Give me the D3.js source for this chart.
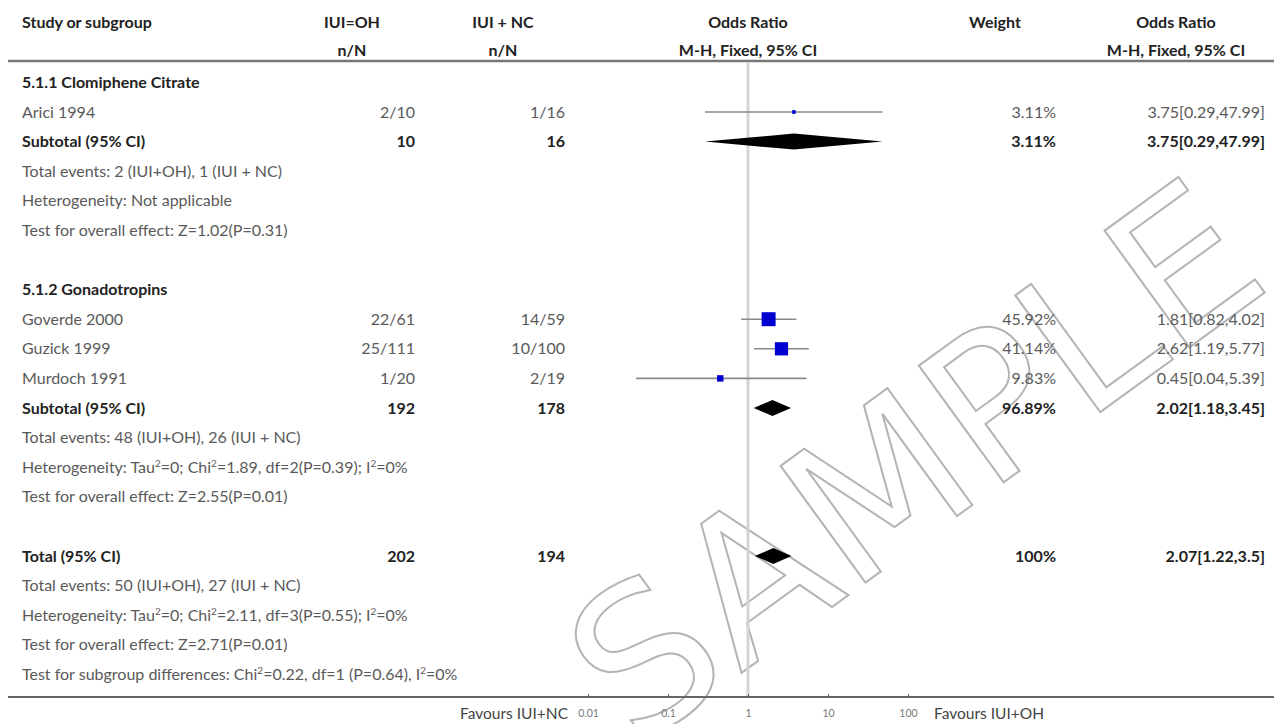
<!DOCTYPE html>
<html><head><meta charset="utf-8">
<script src="https://cdn.jsdelivr.net/npm/d3@7"></script>
<style>
html,body{margin:0;padding:0;background:#fff;}
svg{display:block;font-family:Lato, "Open Sans", sans-serif;}
</style></head>
<body>
<script>
// ---------- data ----------
const studies   = ["Arici 1994", "Goverde 2000", "Guzick 1999", "Murdoch 1991"];
const studyGroup = [0, 1, 1, 1];
const ohCounts  = ["2/10", "22/61", "25/111", "1/20"];
const ncCounts  = ["1/16", "14/59", "10/100", "2/19"];
const orValues  = [3.75, 1.81, 2.62, 0.45];
const ciLower   = [0.29, 0.82, 1.19, 0.04];
const ciUpper   = [47.99, 4.02, 5.77, 5.39];
const weights   = [3.11, 45.92, 41.14, 9.83];
const weightLabels = ["3.11%", "45.92%", "41.14%", "9.83%"];
const orLabels  = ["3.75[0.29,47.99]", "1.81[0.82,4.02]", "2.62[1.19,5.77]", "0.45[0.04,5.39]"];

const groupNames = ["5.1.1 Clomiphene Citrate", "5.1.2 Gonadotropins"];
const subOH      = ["10", "192"];
const subNC      = ["16", "178"];
const subOR      = [3.75, 2.02];
const subLower   = [0.29, 1.18];
const subUpper   = [47.99, 3.45];
const subWeight  = ["3.11%", "96.89%"];
const subORLabel = ["3.75[0.29,47.99]", "2.02[1.18,3.45]"];
const subEvents  = ["Total events: 2 (IUI+OH), 1 (IUI + NC)", "Total events: 48 (IUI+OH), 26 (IUI + NC)"];
const subHet     = [[["Heterogeneity: Not applicable", 0]],
                    [["Heterogeneity: Tau",0],["2",1],["=0; Chi",0],["2",1],["=1.89, df=2(P=0.39); I",0],["2",1],["=0%",0]]];
const subTest    = ["Test for overall effect: Z=1.02(P=0.31)", "Test for overall effect: Z=2.55(P=0.01)"];

const totalOH = "202", totalNC = "194", totalWeight = "100%";
const totalOR = 2.07, totalLower = 1.22, totalUpper = 3.5, totalORLabel = "2.07[1.22,3.5]";
const totalEvents = "Total events: 50 (IUI+OH), 27 (IUI + NC)";
const totalHet = [["Heterogeneity: Tau",0],["2",1],["=0; Chi",0],["2",1],["=2.11, df=3(P=0.55); I",0],["2",1],["=0%",0]];
const totalTest = "Test for overall effect: Z=2.71(P=0.01)";
const subgroupTest = [["Test for subgroup differences: Chi",0],["2",1],["=0.22, df=1 (P=0.64), I",0],["2",1],["=0%",0]];

const tickValues = [0.01, 0.1, 1, 10, 100];
const tickLabels = ["0.01", "0.1", "1", "10", "100"];
const favoursLeft = "Favours IUI+NC", favoursRight = "Favours IUI+OH";

// ---------- build rows ----------
const rows = [];
groupNames.forEach((g, gi) => {
  rows.push({type: "group", label: g});
  studies.forEach((s, i) => { if (studyGroup[i] === gi) rows.push({type: "study", i}); });
  rows.push({type: "subtotal", gi});
  rows.push({type: "text", label: subEvents[gi]});
  rows.push({type: "rich", parts: subHet[gi]});
  rows.push({type: "text", label: subTest[gi]});
  rows.push({type: "blank"});
});
rows.push({type: "total"});
rows.push({type: "text", label: totalEvents});
rows.push({type: "rich", parts: totalHet});
rows.push({type: "text", label: totalTest});
rows.push({type: "rich", parts: subgroupTest});

// ---------- layout ----------
const W = 1274, H = 724;
const svg = d3.select("body").append("svg").attr("width", W).attr("height", H);
const x = d3.scaleLog().domain([0.01, 100]).range([588, 908]);
const y = d3.scaleLinear().domain([0, 20]).range([82.4, 674.4]);
const size = d3.scaleSqrt().domain([0, 100]).range([0, 20.6]);

const colName = 22, colOH = 415, colNC = 565, colW = 1056, colOR = 1265;
const FS = 16;
const grey = "#5a5a5a", dark = "#222";

// watermark
svg.append("text")
  .attr("transform", "translate(915,462) rotate(-36)")
  .attr("text-anchor", "middle").attr("dominant-baseline", "central")
  .style("font-family", "DejaVu Sans").style("font-size", "198px")
  .attr("fill", "none").attr("stroke", "#b4b4b4").attr("stroke-width", 2)
  .text("SAMPLE");

// header
const hdr = svg.append("g").style("font-weight", "bold").style("font-size", FS + "px").attr("fill", dark);
hdr.append("text").attr("x", colName).attr("y", 22).attr("dy", "0.35em").text("Study or subgroup");
[[352, "IUI=OH", "n/N"], [503, "IUI + NC", "n/N"], [748, "Odds Ratio", "M-H, Fixed, 95% CI"],
 [995, "Weight", ""], [1176, "Odds Ratio", "M-H, Fixed, 95% CI"]].forEach(([cx, a, b]) => {
  hdr.append("text").attr("x", cx).attr("y", 22).attr("dy", "0.35em").attr("text-anchor", "middle").text(a);
  if (b) hdr.append("text").attr("x", cx).attr("y", 50).attr("dy", "0.35em").attr("text-anchor", "middle").text(b);
});

// lines
svg.append("line").attr("x1", 8).attr("x2", W).attr("y1", 61).attr("y2", 61).attr("stroke", "#777").attr("stroke-width", 2.5);
svg.append("line").attr("x1", x(1)).attr("x2", x(1)).attr("y1", 62).attr("y2", 697).attr("stroke", "#d4d4d4").attr("stroke-width", 3);

// rows
const body = svg.append("g").style("font-size", FS + "px");
function txt(xp, yp, s, opt = {}) {
  return body.append("text").attr("x", xp).attr("y", yp).attr("dy", "0.35em")
    .attr("text-anchor", opt.anchor || "start")
    .attr("fill", opt.color || grey).style("font-weight", opt.bold ? "bold" : "normal").text(s);
}
function rich(xp, yp, parts) {
  const t = body.append("text").attr("x", xp).attr("y", yp + 5.6).attr("fill", grey);
  let prevSup = false;
  parts.forEach(([s, sup]) => {
    const ts = t.append("tspan").text(s);
    if (sup) ts.attr("dy", -6).style("font-size", "10px");
    else if (prevSup) ts.attr("dy", 6);
    prevSup = !!sup;
  });
}
function diamond(yc, est, lo, hi) {
  const h = 8;
  svg.append("path")
    .attr("d", `M${x(lo)},${yc}L${x(est)},${yc - h}L${x(hi)},${yc}L${x(est)},${yc + h}Z`)
    .attr("fill", "#000");
}

rows.forEach((r, i) => {
  const yy = y(i);
  if (r.type === "group") txt(colName, yy, r.label, {bold: true, color: dark});
  else if (r.type === "study") {
    const k = r.i;
    txt(colName, yy, studies[k]);
    txt(colOH, yy, ohCounts[k], {anchor: "end"});
    txt(colNC, yy, ncCounts[k], {anchor: "end"});
    txt(colW, yy, weightLabels[k], {anchor: "end"});
    txt(colOR, yy, orLabels[k], {anchor: "end"});
    svg.append("line").attr("x1", x(ciLower[k])).attr("x2", x(ciUpper[k])).attr("y1", yy).attr("y2", yy)
      .attr("stroke", "#8a8a8a").attr("stroke-width", 1.6);
    const s = size(weights[k]);
    svg.append("rect").attr("x", x(orValues[k]) - s / 2).attr("y", yy - s / 2).attr("width", s).attr("height", s)
      .attr("fill", "#0000d0");
  } else if (r.type === "subtotal") {
    const g = r.gi;
    txt(colName, yy, "Subtotal (95% CI)", {bold: true, color: dark});
    txt(colOH, yy, subOH[g], {anchor: "end", bold: true, color: dark});
    txt(colNC, yy, subNC[g], {anchor: "end", bold: true, color: dark});
    txt(colW, yy, subWeight[g], {anchor: "end", bold: true, color: dark});
    txt(colOR, yy, subORLabel[g], {anchor: "end", bold: true, color: dark});
    diamond(yy, subOR[g], subLower[g], subUpper[g]);
  } else if (r.type === "total") {
    txt(colName, yy, "Total (95% CI)", {bold: true, color: dark});
    txt(colOH, yy, totalOH, {anchor: "end", bold: true, color: dark});
    txt(colNC, yy, totalNC, {anchor: "end", bold: true, color: dark});
    txt(colW, yy, totalWeight, {anchor: "end", bold: true, color: dark});
    txt(colOR, yy, totalORLabel, {anchor: "end", bold: true, color: dark});
    diamond(yy, totalOR, totalLower, totalUpper);
  } else if (r.type === "text") txt(colName, yy, r.label);
  else if (r.type === "rich") rich(colName, yy, r.parts);
});

// bottom axis
const axisY = 697;
svg.append("line").attr("x1", 8).attr("x2", W).attr("y1", axisY).attr("y2", axisY).attr("stroke", "#666").attr("stroke-width", 2);
const ax = svg.append("g").attr("transform", `translate(0,${axisY})`)
  .call(d3.axisTop(x).tickValues(tickValues).tickFormat((d, i) => tickLabels[i]).tickSize(3).tickSizeOuter(0));
ax.select(".domain").remove();
ax.selectAll(".tick line").attr("stroke", "#666");
ax.selectAll(".tick text").attr("y", 16).attr("dy", "0.35em").attr("fill", "#777")
  .style("font-family", "Lato, sans-serif").style("font-size", "10.5px");
svg.append("text").attr("x", 568).attr("y", 714).attr("dy", "0.35em").attr("text-anchor", "end")
  .attr("fill", "#444").style("font-size", "15.5px").text(favoursLeft);
svg.append("text").attr("x", 934).attr("y", 714).attr("dy", "0.35em")
  .attr("fill", "#444").style("font-size", "15.5px").text(favoursRight);
</script>
</body></html>
